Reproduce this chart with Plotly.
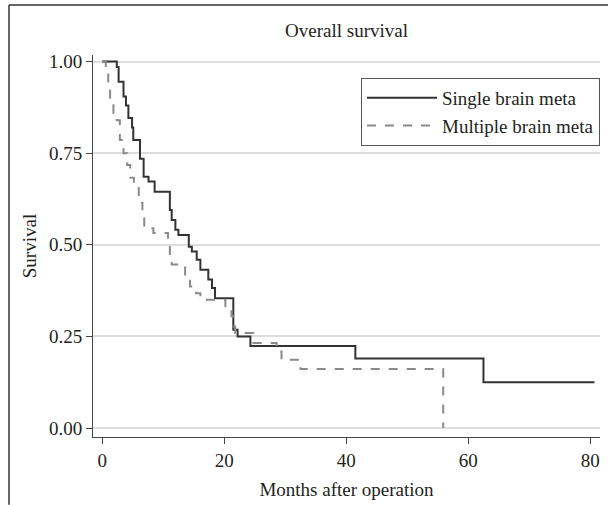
import plotly.graph_objects as go

# Kaplan-Meier step data (months, survival)
single_t = [0, 2.4, 2.7, 3.5, 3.9, 4.3, 4.9, 5.1, 6.2, 6.8, 7.6, 8.6, 11.1, 11.4,
            12.0, 12.5, 14.2, 14.7, 15.5, 16.1, 17.4, 18.0, 18.5, 21.5, 22.2,
            24.3, 41.5, 62.5, 80.7]
single_s = [1.0, 0.985, 0.945, 0.905, 0.88, 0.846, 0.82, 0.786, 0.735, 0.686, 0.673,
            0.645, 0.595, 0.568, 0.541, 0.527, 0.495, 0.482, 0.459, 0.432, 0.405,
            0.382, 0.354, 0.268, 0.25, 0.224, 0.19, 0.125, 0.125]

multi_t = [0, 0.6, 1.0, 1.3, 1.85, 2.4, 2.9, 3.5, 4.1, 4.6, 5.2, 6.0, 6.6, 6.9,
           8.4, 10.8, 11.1, 11.4, 13.6, 14.4, 15.4, 16.1, 20.2, 21.2, 21.5, 21.8,
           24.8, 28.6, 29.4, 32.5, 55.9]
multi_s = [1.0, 0.97, 0.94, 0.887, 0.86, 0.84, 0.786, 0.75, 0.718, 0.683, 0.655,
           0.615, 0.59, 0.545, 0.532, 0.5, 0.47, 0.446, 0.413, 0.386, 0.368, 0.35,
           0.328, 0.305, 0.277, 0.259, 0.232, 0.209, 0.186, 0.161, 0.0]

x_ticks = [0, 20, 40, 60, 80]
y_ticks = [0.0, 0.25, 0.5, 0.75, 1.0]
y_tick_labels = ["0.00", "0.25", "0.50", "0.75", "1.00"]

FONT = "Liberation Serif"
TXT = "#231f20"
AX = "#444444"

fig = go.Figure()
fig.add_trace(go.Scatter(
    x=single_t, y=single_s, mode="lines", line_shape="hv",
    name="Single brain meta",
    line=dict(color="#333333", width=2)))
fig.add_trace(go.Scatter(
    x=multi_t, y=multi_s, mode="lines", line_shape="hv",
    name="Multiple brain meta",
    line=dict(color="#8a8a8a", width=2, dash="dash")))

fig.update_layout(
    width=608, height=505,
    margin=dict(l=93, r=8, t=55, b=68),
    paper_bgcolor="white", plot_bgcolor="white",
    font=dict(family=FONT, size=19, color=TXT),
    title=dict(text="Overall survival", x=0.57, xref="container", xanchor="center",
               y=1 - 30 / 505, yanchor="middle",
               font=dict(family=FONT, size=19, color=TXT)),
    showlegend=True,
    legend=dict(x=1.0, xanchor="right", y=0.94, yanchor="top",
                bgcolor="white", bordercolor="#555555", borderwidth=1,
                font=dict(family=FONT, size=19, color=TXT),
                itemwidth=70, tracegroupgap=0),
    xaxis=dict(range=[-1.5, 81.6], tickvals=x_ticks, showgrid=False,
               zeroline=False, showline=True, linecolor=AX, linewidth=1,
               ticks="outside", ticklen=6, tickcolor=AX,
               title=dict(text="Months after operation", standoff=12,
                          font=dict(family=FONT, size=19, color=TXT))),
    yaxis=dict(range=[-0.0245, 1.018], tickvals=y_ticks, ticktext=y_tick_labels,
               showgrid=True, gridcolor="#dddddd", gridwidth=1.5,
               zeroline=False, showline=True, linecolor=AX, linewidth=1,
               ticks="outside", ticklen=6, tickcolor=AX,
               title=dict(text="Survival", standoff=7,
                          font=dict(family=FONT, size=19, color=TXT))),
)

# frame lines of the original figure (top and left edges)
fig.add_shape(type="line", xref="paper", yref="paper",
              x0=(9 - 93) / 507, x1=(608 - 93) / 507,
              y0=(437.3 - 5) / 382.3, y1=(437.3 - 5) / 382.3,
              line=dict(color="#333333", width=1.5))
fig.add_shape(type="line", xref="paper", yref="paper",
              x0=(9 - 93) / 507, x1=(9 - 93) / 507,
              y0=(437.3 - 5) / 382.3, y1=(437.3 - 505) / 382.3,
              line=dict(color="#333333", width=1.5))

fig.write_html("out.html")
